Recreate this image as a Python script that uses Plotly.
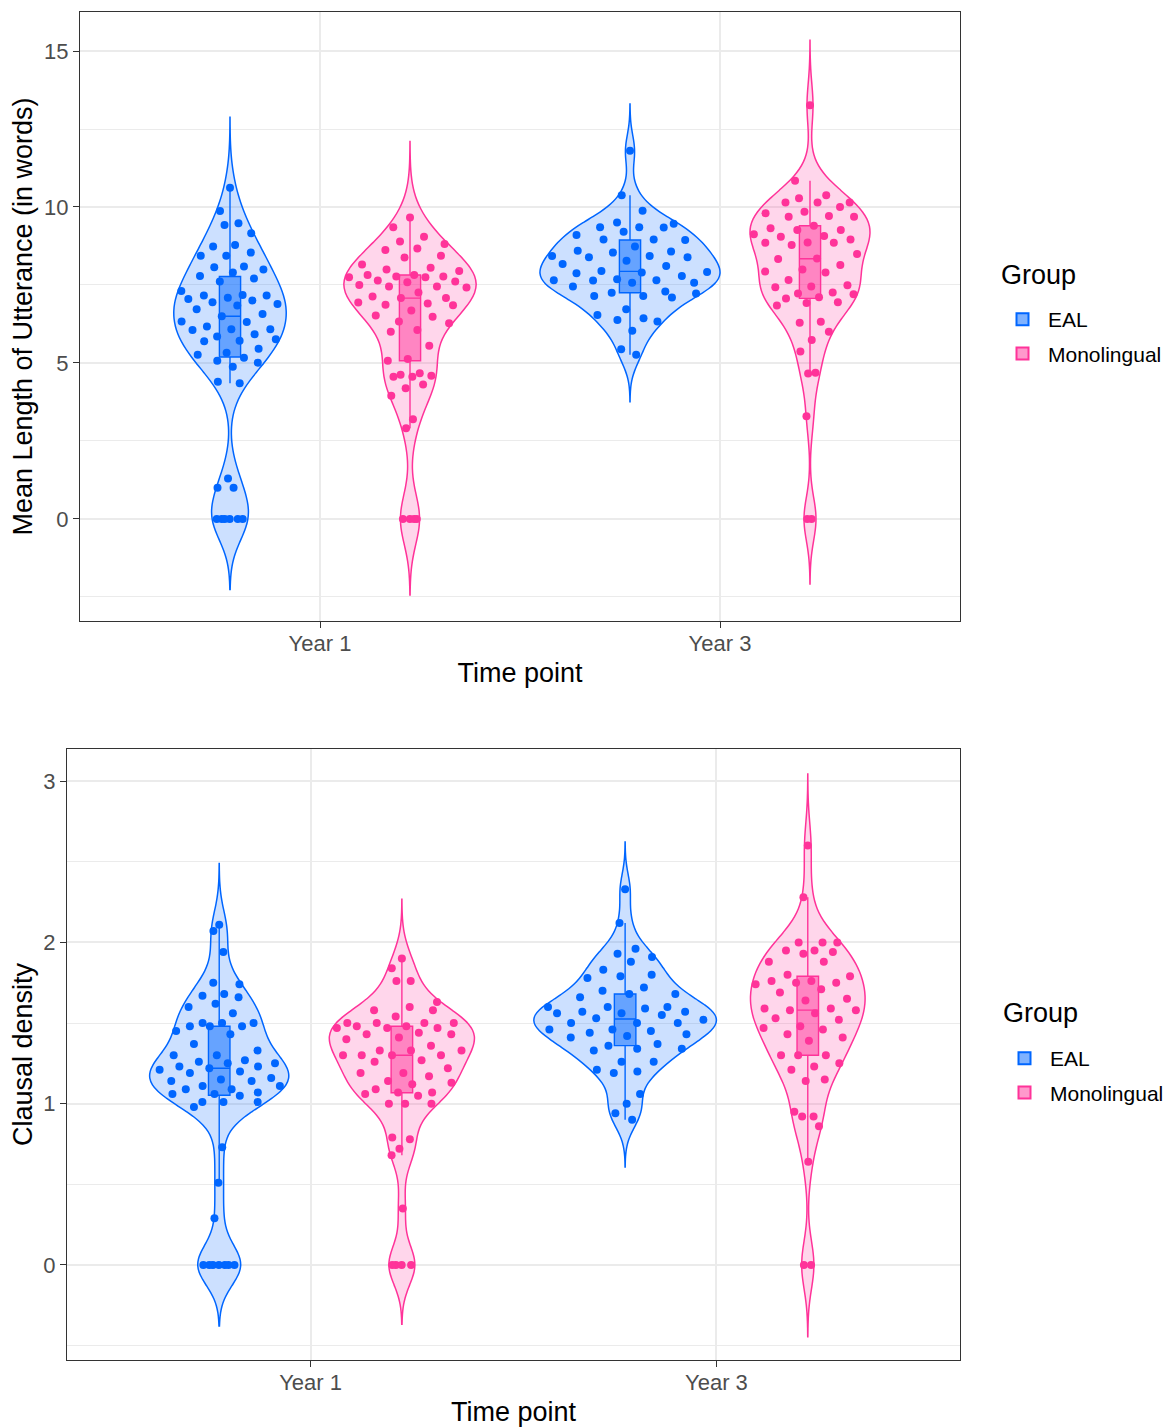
import numpy as np
import plotly.graph_objects as go

# ---------------- data ----------------
time_points = ["Year 1", "Year 3"]
groups = ["EAL", "Monolingual"]
legend_title = "Group"

mlu_eal_y1 = [10.62, 9.87, 9.48, 9.42, 9.16, 8.78, 8.73, 8.54, 8.44, 8.44, 8.09, 8.07, 8.0, 7.9,
              7.79, 7.71, 7.61, 7.31, 7.18, 7.16, 7.16, 7.09, 7.05, 7.0, 6.95, 6.89, 6.84, 6.72,
              6.57, 6.50, 6.33, 6.31, 6.17, 6.08, 6.08, 6.06, 5.92, 5.85, 5.76, 5.71, 5.70, 5.46,
              5.33, 5.26, 5.17, 5.07, 5.01, 4.88, 4.40, 4.35, 1.30, 1.0, 1.0, 0, 0, 0, 0, 0, 0]
mlu_mono_y1 = [9.66, 9.35, 9.05, 8.89, 8.81, 8.67, 8.62, 8.44, 8.38, 8.16, 8.05, 8.0, 7.95, 7.82,
               7.82, 7.77, 7.77, 7.75, 7.75, 7.64, 7.61, 7.59, 7.5, 7.45, 7.45, 7.42, 7.26, 7.13,
               7.08, 7.08, 6.94, 6.91, 6.87, 6.85, 6.68, 6.52, 6.48, 6.33, 6.27, 6.06, 6.0, 5.55,
               5.13, 5.07, 4.67, 4.62, 4.59, 4.56, 4.56, 4.31, 4.19, 3.95, 3.2, 2.91, 0, 0, 0, 0]
mlu_eal_y3 = [11.8, 10.38, 9.88, 9.5, 9.46, 9.35, 9.35, 9.34, 9.21, 9.1, 8.96, 8.96, 8.94, 8.73,
              8.6, 8.57, 8.54, 8.43, 8.43, 8.39, 8.39, 8.28, 8.17, 8.11, 7.95, 7.92, 7.9, 7.88,
              7.79, 7.68, 7.65, 7.65, 7.64, 7.57, 7.57, 7.45, 7.29, 7.25, 7.23, 7.15, 7.15, 7.1,
              6.72, 6.54, 6.43, 6.38, 6.33, 6.03, 5.44, 5.26]
mlu_mono_y3 = [13.26, 10.84, 10.38, 10.28, 10.14, 10.14, 10.14, 10.0, 9.85, 9.8, 9.71, 9.69, 9.69,
               9.4, 9.32, 9.26, 9.26, 9.13, 9.07, 9.05, 8.96, 8.86, 8.85, 8.85, 8.78, 8.49, 8.35,
               8.33, 8.14, 8.0, 7.93, 7.9, 7.66, 7.49, 7.45, 7.43, 7.26, 7.23, 7.2, 7.11, 7.07,
               6.95, 6.92, 6.84, 6.32, 6.29, 6.0, 5.74, 5.37, 4.69, 4.66, 3.29, 0, 0]

cd_eal_y1 = [2.11, 2.07, 1.94, 1.75, 1.74, 1.68, 1.67, 1.66, 1.62, 1.6, 1.56, 1.5, 1.5, 1.5, 1.48,
             1.48, 1.48, 1.45, 1.43, 1.37, 1.33, 1.3, 1.3, 1.27, 1.26, 1.25, 1.25, 1.23, 1.23, 1.22,
             1.21, 1.2, 1.19, 1.16, 1.15, 1.14, 1.14, 1.11, 1.11, 1.09, 1.09, 1.07, 1.06, 1.06,
             1.05, 1.01, 1.01, 1.01, 0.98, 0.73, 0.51, 0.29, 0, 0, 0, 0, 0, 0, 0]
cd_mono_y1 = [1.9, 1.84, 1.76, 1.76, 1.63, 1.6, 1.58, 1.58, 1.54, 1.5, 1.5, 1.5, 1.5, 1.48, 1.48,
              1.47, 1.47, 1.47, 1.44, 1.43, 1.43, 1.41, 1.4, 1.36, 1.33, 1.33, 1.33, 1.3, 1.3, 1.3,
              1.3, 1.27, 1.26, 1.22, 1.19, 1.19, 1.17, 1.14, 1.13, 1.12, 1.09, 1.07, 1.07, 1.06,
              1.05, 1.0, 1.0, 1.0, 0.79, 0.78, 0.72, 0.68, 0.35, 0, 0, 0, 0]
cd_eal_y3 = [2.33, 2.12, 1.96, 1.93, 1.91, 1.88, 1.83, 1.8, 1.79, 1.78, 1.72, 1.7, 1.68, 1.68, 1.66,
             1.6, 1.6, 1.6, 1.59, 1.57, 1.57, 1.56, 1.56, 1.55, 1.53, 1.52, 1.5, 1.5, 1.5, 1.46,
             1.46, 1.45, 1.44, 1.43, 1.42, 1.41, 1.37, 1.36, 1.34, 1.34, 1.33, 1.26, 1.26, 1.21,
             1.2, 1.19, 1.06, 1.0, 0.94, 0.9]
cd_mono_y3 = [2.6, 2.28, 2.0, 2.0, 2.0, 1.95, 1.95, 1.94, 1.93, 1.88, 1.88, 1.8, 1.79, 1.76, 1.76,
              1.75, 1.75, 1.74, 1.71, 1.69, 1.65, 1.64, 1.59, 1.59, 1.58, 1.58, 1.56, 1.53, 1.52,
              1.48, 1.47, 1.46, 1.43, 1.41, 1.39, 1.3, 1.3, 1.3, 1.25, 1.23, 1.21, 1.15, 1.14,
              0.95, 0.92, 0.92, 0.86, 0.64, 0, 0]

mlu_data = {("EAL", "Year 1"): mlu_eal_y1, ("Monolingual", "Year 1"): mlu_mono_y1,
            ("EAL", "Year 3"): mlu_eal_y3, ("Monolingual", "Year 3"): mlu_mono_y3}
cd_data = {("EAL", "Year 1"): cd_eal_y1, ("Monolingual", "Year 1"): cd_mono_y1,
           ("EAL", "Year 3"): cd_eal_y3, ("Monolingual", "Year 3"): cd_mono_y3}

# ---------------- styling ----------------
RGB = {"EAL": (0, 102, 255), "Monolingual": (255, 51, 153)}
FONT = "Liberation Sans, Arial, sans-serif"
W, H = 1173, 1428          # browser window
OFF = 8                    # default page (body) margin
FW, FH = W - OFF, H - OFF  # figure size
DODGE = 0.9
MAXW = DODGE / 2           # max full width of one dodged violin
BOXW = 0.053


def px_x(x):   # window pixel -> paper fraction
    return (x - OFF) / FW


def px_y(y):
    return 1 - (y - OFF) / FH


def rgba(c, a):
    return f"rgba({c[0]},{c[1]},{c[2]},{a})"


def nrd0(v):
    v = np.asarray(v, float)
    sd = v.std(ddof=1)
    q75, q25 = np.percentile(v, [75, 25])
    lo = min(sd, (q75 - q25) / 1.34)
    if lo <= 0:
        lo = sd if sd > 0 else 1.0
    return 0.9 * lo * len(v) ** -0.2


def kde(v, bw, pts):
    v = np.asarray(v, float)
    pts = np.asarray(pts, float)
    z = (pts[:, None] - v[None, :]) / bw
    return np.exp(-0.5 * z * z).sum(1) / (len(v) * bw * np.sqrt(2 * np.pi))


fig = go.Figure()

panels = [
    dict(data=mlu_data, xa="x", ya="y", legend="legend"),
    dict(data=cd_data, xa="x2", ya="y2", legend="legend2"),
]

for p in panels:
    stats = {}
    for key, vals in p["data"].items():
        bw = nrd0(vals)
        lo, hi = min(vals) - 3 * bw, max(vals) + 3 * bw
        grid = np.linspace(lo, hi, 512)
        d = kde(vals, bw, grid)
        stats[key] = dict(bw=bw, span=[lo, hi], dmax=d.max())
    dmax_all = max(s["dmax"] for s in stats.values())

    for ti, t in enumerate(time_points):
        for gi, g in enumerate(groups):
            vals = p["data"][(g, t)]
            s = stats[(g, t)]
            pos = (ti + 1) + (gi - 0.5) * DODGE / 2
            col = RGB[g]
            fig.add_trace(go.Violin(
                x0=pos, y=vals, width=MAXW * s["dmax"] / dmax_all, scalemode="width",
                bandwidth=s["bw"], spanmode="manual", span=s["span"], points=False,
                line=dict(color=rgba(col, 1), width=1.5), fillcolor=rgba(col, 0.2),
                box_visible=False, meanline_visible=False, showlegend=False,
                hoverinfo="skip", xaxis=p["xa"], yaxis=p["ya"], legendgroup=g, name=g))
            fig.add_trace(go.Box(
                x0=pos, y=vals, width=BOXW, fillcolor=rgba(col, 0.5),
                line=dict(color=rgba(col, 1), width=1.4), whiskerwidth=0,
                boxpoints="outliers", marker=dict(opacity=0, size=1),
                name=g, legendgroup=g, showlegend=(ti == 0), legend=p["legend"],
                xaxis=p["xa"], yaxis=p["ya"], hoverinfo="skip"))
            # sina-style spread: offset bounded by the violin's half width at that value
            n = len(vals)
            q = (0.5 + np.arange(n) * 0.6180339887) % 1.0
            half = 0.95 * (MAXW / 2) * kde(vals, s["bw"], vals) / dmax_all
            xs = pos + (2 * q - 1) * half
            fig.add_trace(go.Scatter(
                x=xs, y=vals, mode="markers",
                marker=dict(color=rgba(col, 1), size=8, line=dict(width=0)),
                showlegend=False, legendgroup=g, xaxis=p["xa"], yaxis=p["ya"],
                hoverinfo="y"))

axis_common = dict(
    showline=True, linecolor="#333333", linewidth=1.3, mirror=True,
    ticks="outside", ticklen=6, tickwidth=1.3, tickcolor="#333333",
    tickfont=dict(size=22, color="#4D4D4D", family=FONT),
    showgrid=True, gridcolor="#EBEBEB", gridwidth=1.5, zeroline=False,
    automargin=False,
)


def xax(domain, anchor):
    return dict(axis_common, domain=domain, anchor=anchor, type="linear",
                range=[0.4, 2.6], tickvals=[1, 2], ticktext=time_points,
                ticklabelstandoff=-4,
                title=dict(text="Time point", font=dict(size=27, color="black", family=FONT),
                           standoff=8))


def yax(domain, anchor, rng, dtick, title):
    return dict(axis_common, domain=domain, anchor=anchor, range=rng, dtick=dtick, tick0=0,
                minor=dict(dtick=dtick / 2, tick0=0, showgrid=True, gridcolor="#EBEBEB",
                           gridwidth=0.8, ticks=""),
                title=dict(text=title, font=dict(size=27, color="black", family=FONT),
                           standoff=8))


legend_common = dict(
    xanchor="left", yanchor="top", bgcolor="rgba(0,0,0,0)",
    font=dict(size=21, color="black", family=FONT),
    tracegroupgap=4, itemsizing="constant", itemwidth=41,
)

title_font = dict(size=27, color="black", family=FONT)

fig.update_layout(
    width=FW, height=FH,
    margin=dict(l=0, r=0, t=0, b=0),
    paper_bgcolor="white", plot_bgcolor="white",
    font=dict(family=FONT),
    violinmode="overlay", boxmode="overlay",
    xaxis=xax([px_x(80), px_x(960)], "y"),
    yaxis=yax([px_y(621), px_y(12)], "x", [-3.27, 16.25], 5,
              "Mean Length of Utterance (in words)"),
    xaxis2=xax([px_x(67), px_x(960)], "y2"),
    yaxis2=yax([px_y(1360), px_y(749)], "x2", [-0.589, 3.199], 1, "Clausal density"),
    legend=dict(legend_common, x=px_x(997), y=px_y(299)),
    legend2=dict(legend_common, x=px_x(999), y=px_y(1038)),
    annotations=[
        dict(text=legend_title, xref="paper", yref="paper", x=px_x(999), y=px_y(275),
             xanchor="left", yanchor="middle", showarrow=False, font=title_font),
        dict(text=legend_title, xref="paper", yref="paper", x=px_x(1001), y=px_y(1013),
             xanchor="left", yanchor="middle", showarrow=False, font=title_font),
    ],
)

fig.write_html("out.html")
